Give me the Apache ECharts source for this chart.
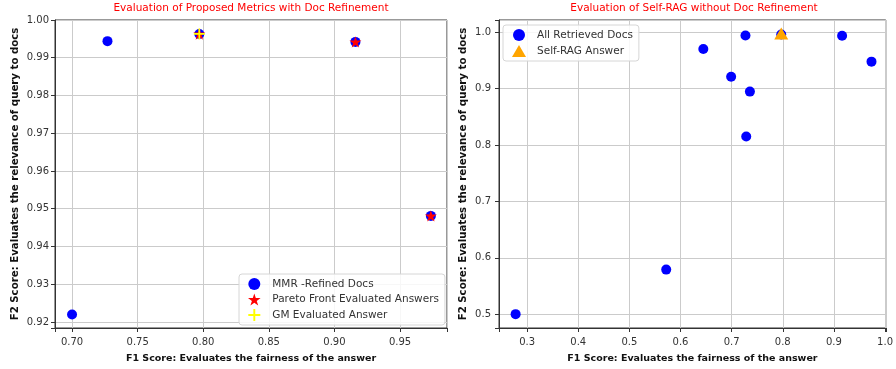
<!DOCTYPE html>
<html>
<head>
<meta charset="utf-8">
<script src="https://cdn.jsdelivr.net/npm/echarts@6/dist/echarts.min.js"></script>
<style>
  html, body { margin: 0; padding: 0; background: #ffffff; }
  #chart { width: 896px; height: 369px; }
</style>
</head>
<body>
<div id="chart"></div>
<script>
// Left panel: MMR-refined documents and the answers picked from them
const mmrF1 = [0.700, 0.727, 0.797, 0.916, 0.9735];
const mmrF2 = [0.922, 0.9944, 0.9963, 0.9942, 0.9481];
const paretoF1 = [0.797, 0.916, 0.9735];
const paretoF2 = [0.9963, 0.9942, 0.9481];
const gmF1 = [0.797];
const gmF2 = [0.9963];

// Right panel: every retrieved document and the Self-RAG answer
const allF1 = [0.2775, 0.572, 0.6446, 0.699, 0.7285, 0.7357, 0.727, 0.797, 0.916, 0.9735];
const allF2 = [0.500, 0.579, 0.9706, 0.9213, 0.8151, 0.8949, 0.9944, 0.9963, 0.9942, 0.9481];
const selfRagF1 = [0.797];
const selfRagF2 = [0.9963];

const panelTitles = [
  'Evaluation of Proposed Metrics with Doc Refinement',
  'Evaluation of Self-RAG without Doc Refinement'
];
const xTitle = 'F1 Score: Evaluates the fairness of the answer';
const yTitle = 'F2 Score: Evaluates the relevance of query to docs';
const legendLeft = ['MMR -Refined Docs', 'Pareto Front Evaluated Answers', 'GM Evaluated Answer'];
const legendRight = ['All Retrieved Docs', 'Self-RAG Answer'];

const FONT = 'DejaVu Sans';
const STAR = 'path://M50,0 L61.23,34.55 L97.55,34.55 L68.17,55.9 L79.39,90.45 L50,69.1 L20.61,90.45 L31.83,55.9 L2.45,34.55 L38.77,34.55 Z';
const PLUS = 'path://M4.2,0 H5.8 V10 H4.2 Z M0,4.2 H10 V5.8 H0 Z';
const TRIANGLE = 'path://M0,12 L7,0 L14,12 Z';

const pairs = (xs, ys) => xs.map((x, i) => [x, ys[i]]);

// Only label values that sit on the regular tick step
const stepLabel = (step, decimals) => (v) => {
  const r = v / step;
  return Math.abs(r - Math.round(r)) < 1e-6 ? v.toFixed(decimals) : '';
};

function valueAxis(opts) {
  return Object.assign({
    type: 'value',
    nameLocation: 'middle',
    axisLine: { show: true, onZero: false, lineStyle: { color: '#333', width: 1 } },
    axisTick: { show: true, inside: false, length: 4, lineStyle: { color: '#333', width: 1 } },
    splitLine: { show: true, lineStyle: { color: '#cbcbcb', width: 1 } },
    scale: true
  }, opts);
}

function nameStyle(size) {
  return { fontFamily: FONT, fontWeight: 'bold', fontSize: size, color: '#111' };
}

function labelStyle(formatter, margin) {
  return { fontFamily: FONT, fontSize: 10, color: '#333', margin: margin, formatter: formatter, hideOverlap: false };
}

const legendBox = {
  orient: 'vertical',
  itemWidth: 26,
  itemHeight: 12,
  backgroundColor: 'rgba(255,255,255,0.85)',
  borderColor: '#d6d6d6',
  borderWidth: 1,
  borderRadius: 3,
  textStyle: { fontFamily: FONT, fontSize: 10.5, color: '#333' }
};

const option = {
  backgroundColor: '#ffffff',
  animation: false,
  title: [
    { text: panelTitles[0], left: 251, top: 3, textAlign: 'center', padding: 0,
      textStyle: { fontFamily: FONT, fontSize: 10.5, fontWeight: 'normal', color: '#ff0000' } },
    { text: panelTitles[1], left: 694, top: 3, textAlign: 'center', padding: 0,
      textStyle: { fontFamily: FONT, fontSize: 10.5, fontWeight: 'normal', color: '#ff0000' } }
  ],
  grid: [
    { left: 55, right: 449, top: 20, bottom: 39, show: true, borderColor: '#333', borderWidth: 1, containLabel: false },
    { left: 499, right: 7, top: 20, bottom: 39, show: true, borderColor: '#333', borderWidth: 1, containLabel: false }
  ],
  legend: [
    Object.assign({}, legendBox, {
      left: 239, top: 274, itemGap: 3.5, padding: [4, 6, 4, 9],
      data: [
        { name: legendLeft[0], icon: 'circle' },
        { name: legendLeft[1], icon: STAR },
        { name: legendLeft[2], icon: PLUS }
      ]
    }),
    Object.assign({}, legendBox, {
      left: 503, top: 25, itemGap: 4, padding: [4, 6, 4, 9],
      data: [
        { name: legendRight[0], icon: 'circle' },
        { name: legendRight[1], icon: TRIANGLE }
      ]
    })
  ],
  xAxis: [
    valueAxis({ gridIndex: 0, min: 0.687, max: 0.9858, splitNumber: 6, name: xTitle, nameGap: 26,
      nameTextStyle: nameStyle(9.5), axisLabel: labelStyle(stepLabel(0.05, 2), 9) }),
    valueAxis({ gridIndex: 1, min: 0.245, max: 1.0015, splitNumber: 8, name: xTitle, nameGap: 26,
      nameTextStyle: nameStyle(9.5), axisLabel: labelStyle(stepLabel(0.1, 1), 9) })
  ],
  yAxis: [
    valueAxis({ gridIndex: 0, min: 0.9184, max: 1.0, splitNumber: 8, name: yTitle, nameGap: 35, nameRotate: 90,
      nameTextStyle: nameStyle(10.2), axisLabel: labelStyle(stepLabel(0.01, 2), 6) }),
    valueAxis({ gridIndex: 1, min: 0.4754, max: 1.022, splitNumber: 5, name: yTitle, nameGap: 31, nameRotate: 90,
      nameTextStyle: nameStyle(10.2), axisLabel: labelStyle(stepLabel(0.1, 1), 8) })
  ],
  series: [
    { name: legendLeft[0], type: 'scatter', xAxisIndex: 0, yAxisIndex: 0, z: 2,
      symbol: 'circle', symbolSize: 10, itemStyle: { color: '#0000ff', opacity: 1 },
      data: pairs(mmrF1, mmrF2) },
    { name: legendLeft[1], type: 'scatter', xAxisIndex: 0, yAxisIndex: 0, z: 3,
      symbol: STAR, symbolSize: 12, symbolKeepAspect: true, itemStyle: { color: '#ff0000', opacity: 1 },
      data: pairs(paretoF1, paretoF2) },
    { name: legendLeft[2], type: 'scatter', xAxisIndex: 0, yAxisIndex: 0, z: 4,
      symbol: PLUS, symbolSize: 11, itemStyle: { color: '#ffff00', opacity: 1 },
      data: pairs(gmF1, gmF2) },
    { name: legendRight[0], type: 'scatter', xAxisIndex: 1, yAxisIndex: 1, z: 2,
      symbol: 'circle', symbolSize: 10, itemStyle: { color: '#0000ff', opacity: 1 },
      data: pairs(allF1, allF2) },
    { name: legendRight[1], type: 'scatter', xAxisIndex: 1, yAxisIndex: 1, z: 3,
      symbol: 'triangle', symbolSize: [14, 12], symbolOffset: [0, -1], itemStyle: { color: '#ffa500', opacity: 1 },
      data: pairs(selfRagF1, selfRagF2) }
  ]
};

const chart = echarts.init(document.getElementById('chart'), null, { renderer: 'canvas' });
chart.setOption(option);
</script>
</body>
</html>
